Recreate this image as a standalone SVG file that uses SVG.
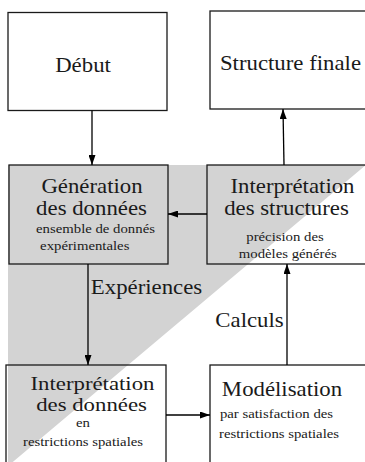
<svg xmlns="http://www.w3.org/2000/svg" width="365" height="462" viewBox="0 0 365 462">
<style>
.box{stroke:#1a1a1a;stroke-width:1.3;fill:none}
.con{stroke:#000;stroke-width:1.3;fill:none;marker-end:url(#ah)}
.b{font-family:"Liberation Serif",serif;font-size:20px;fill:#1a1a1a;text-anchor:middle}
.s{font-family:"Liberation Serif",serif;font-size:13.3px;fill:#1a1a1a;text-anchor:middle}
</style>
<defs>
<marker id="ah" markerUnits="userSpaceOnUse" markerWidth="10" markerHeight="7" refX="10" refY="3.5" orient="auto">
<path d="M0,0 L10,3.5 L0,7 z" fill="#000"/>
</marker>
</defs>
<rect width="365" height="462" fill="#fff"/>
<polygon points="8,165 366,165 8,466" fill="#d3d3d3"/>
<g id="debut">
<rect class="box" x="8" y="12.5" width="159" height="98" fill="#fff"/>
<text class="b" transform="translate(83,72) scale(1.14,1)">Début</text>
</g>
<g id="structure-finale">
<rect class="box" x="210" y="11" width="170" height="98" fill="#fff"/>
<text class="b" transform="translate(290.5,70) scale(1.14,1)">Structure finale</text>
</g>
<g id="generation">
<rect class="box" x="9" y="165" width="159" height="99" style="fill:#d3d3d3"/>
<text class="b" transform="translate(92,193) scale(1.14,1)">Génération</text>
<text class="b" transform="translate(91.5,214.5) scale(1.14,1)">des données</text>
<text class="s" transform="translate(95.5,233) scale(1.11,1)">ensemble de donnés</text>
<text class="s" transform="translate(84.75,249.5) scale(1.11,1)">expérimentales</text>
</g>
<g id="interp-structures">
<rect class="box" x="207" y="165" width="170" height="99"/>
<text class="b" transform="translate(292.5,193) scale(1.14,1)">Interprétation</text>
<text class="b" transform="translate(286.5,214.5) scale(1.14,1)">des structures</text>
<text class="s" transform="translate(285,240.5) scale(1.11,1)">précision des</text>
<text class="s" transform="translate(287.75,258) scale(1.11,1)">modèles générés</text>
</g>
<g id="interp-donnees">
<rect class="box" x="6" y="365" width="160" height="110"/>
<text class="b" style="font-size:19px" transform="translate(92.5,389.5) scale(1.2,1)">Interprétation</text>
<text class="b" style="font-size:19px" transform="translate(91.5,410.5) scale(1.2,1)">des données</text>
<text class="s" transform="translate(83,426.5) scale(1.11,1)">en</text>
<text class="s" transform="translate(83,445.5) scale(1.11,1)">restrictions spatiales</text>
</g>
<g id="modelisation">
<rect class="box" x="210" y="365" width="170" height="110"/>
<text class="b" transform="translate(282,395.5) scale(1.14,1)">Modélisation</text>
<text class="s" transform="translate(276.5,418) scale(1.11,1)">par satisfaction des</text>
<text class="s" transform="translate(279,438) scale(1.11,1)">restrictions spatiales</text>
</g>
<g id="connectors">
<line class="con" x1="92" y1="110.5" x2="92" y2="165"/>
<line class="con" x1="284" y1="165" x2="283" y2="109"/>
<line class="con" x1="207" y1="214" x2="168" y2="214"/>
<line class="con" x1="88" y1="264" x2="88" y2="365"/>
<line class="con" x1="166" y1="415" x2="210" y2="415"/>
<line class="con" x1="287" y1="365" x2="287" y2="264"/>
<text class="b" transform="translate(146.5,294) scale(1.14,1)">Expériences</text>
<text class="b" transform="translate(249.5,326.5) scale(1.14,1)">Calculs</text>
</g>
</svg>
